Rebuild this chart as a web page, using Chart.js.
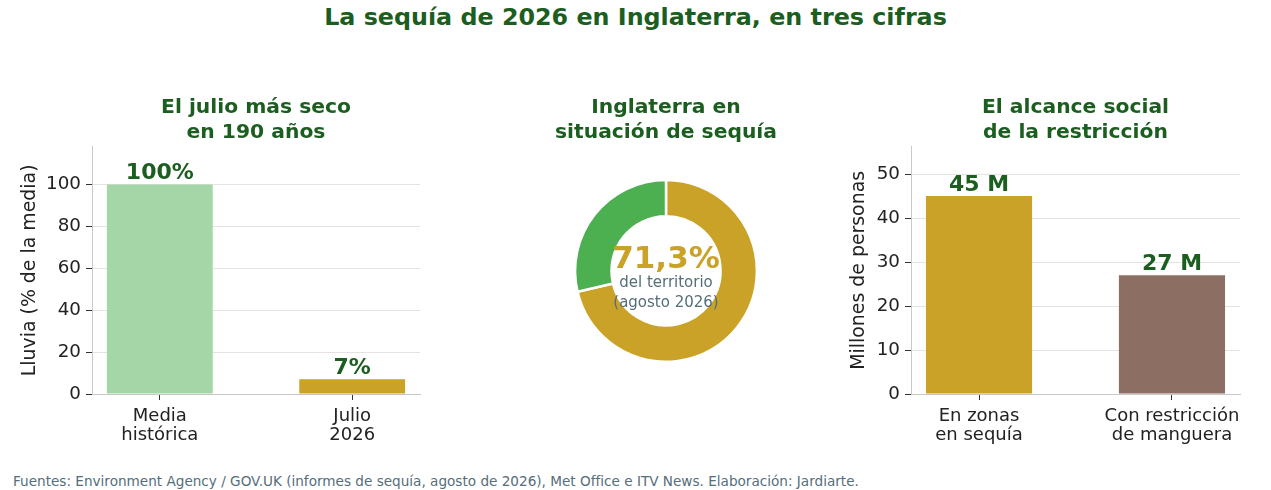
<!DOCTYPE html>
<html lang="es">
<head>
<meta charset="utf-8">
<title>La sequía de 2026 en Inglaterra</title>
<script src="https://cdn.jsdelivr.net/npm/chart.js@4.4.1/dist/chart.umd.min.js"></script>
<style>
    html, body {
        margin: 0;
        padding: 0;
        background: #ffffff;
        font-family: "DejaVu Sans", sans-serif;
    }
    #page {
        position: relative;
        width: 1271px;
        height: 490px;
        overflow: hidden;
    }
    #mainTitle {
        position: absolute;
        left: 0;
        top: 3px;
        width: 1271px;
        text-align: center;
        font-size: 23.8px;
        font-weight: bold;
        color: #1b5e20;
    }
    #source {
        position: absolute;
        left: 13px;
        top: 473px;
        font-size: 13.6px;
        color: #546e7a;
        white-space: nowrap;
    }
    .panel {
        position: absolute;
        top: 0;
        height: 470px;
    }
    #p1 { left: 0; width: 440px; }
    #p2 { left: 500px; width: 332px; }
    #p3 { left: 820px; width: 451px; }
</style>
</head>
<body>
<div id="page">
    <div id="mainTitle">La sequía de 2026 en Inglaterra, en tres cifras</div>
    <div class="panel" id="p1"><canvas id="rainChart"></canvas></div>
    <div class="panel" id="p2"><canvas id="areaChart"></canvas></div>
    <div class="panel" id="p3"><canvas id="peopleChart"></canvas></div>
    <div id="source">Fuentes: Environment Agency / GOV.UK (informes de sequía, agosto de 2026), Met Office e ITV News. Elaboración: Jardiarte.</div>
</div>

<script>

// ================= DATA =================

const rainCategories = [["Media", "histórica"], ["Julio", "2026"]];
const rainValues = [100, 7];
const rainValueLabels = ["100%", "7%"];
const rainColors = ["#a5d6a7", "#c9a227"];
const rainTicks = [0, 20, 40, 60, 80, 100];

const areaCategories = ["En sequía", "Resto"];
const areaValues = [71.3, 28.7];
const areaColors = ["#c9a227", "#4caf50"];
const areaCenterText = ["71,3%", "del territorio", "(agosto 2026)"];

const peopleCategories = [["En zonas", "en sequía"], ["Con restricción", "de manguera"]];
const peopleValues = [45, 27];
const peopleValueLabels = ["45 M", "27 M"];
const peopleColors = ["#c9a227", "#8d6e63"];
const peopleTicks = [0, 10, 20, 30, 40, 50];


// ================= SHARED STYLE =================

const FONT = "'DejaVu Sans', sans-serif";
const GREEN_DARK = "#1b5e20";
const GREY_TEXT = "#546e7a";

Chart.defaults.font.family = FONT;
Chart.defaults.color = "#222222";
Chart.defaults.animation = false;
Chart.defaults.devicePixelRatio = 1;


// labels above bars
const barValueLabels = {
    id: "barValueLabels",
    afterDatasetsDraw(chart, args, opts) {
        const ctx = chart.ctx;
        const meta = chart.getDatasetMeta(0);
        ctx.save();
        ctx.font = "bold 22px " + FONT;
        ctx.fillStyle = GREEN_DARK;
        ctx.textAlign = "center";
        ctx.textBaseline = "alphabetic";
        meta.data.forEach((bar, i) => {
            ctx.fillText(opts.labels[i], bar.x, bar.y - 5);
        });
        ctx.restore();
    }
};

// text in the donut hole
const donutCenter = {
    id: "donutCenter",
    afterDatasetsDraw(chart, args, opts) {
        const ctx = chart.ctx;
        const arc = chart.getDatasetMeta(0).data[0];
        if (!arc) {
            return;
        }
        const cx = arc.x;
        const cy = arc.y;
        ctx.save();
        ctx.textAlign = "center";
        ctx.textBaseline = "middle";
        ctx.font = "bold 31px " + FONT;
        ctx.fillStyle = "#c9a227";
        ctx.fillText(opts.lines[0], cx, cy - 11);
        ctx.font = "15px " + FONT;
        ctx.fillStyle = GREY_TEXT;
        ctx.fillText(opts.lines[1], cx, cy + 12);
        ctx.fillText(opts.lines[2], cx, cy + 32);
        ctx.restore();
    }
};


function barOptions(title, yTitle, yMax, yTicks, categories, valueLabels) {

    return {
        responsive: true,
        maintainAspectRatio: false,
        layout: {
            padding: { top: 96, left: 0, right: 0, bottom: 0 }
        },
        plugins: {
            legend: { display: false },
            tooltip: { enabled: false },
            title: {
                display: true,
                text: title,
                fullSize: false,
                color: GREEN_DARK,
                font: { size: 20.3, weight: "bold", lineHeight: 1.2 },
                padding: { top: 0, bottom: 2 }
            },
            barValueLabels: { labels: valueLabels }
        },
        scales: {
            x: {
                type: "linear",
                offset: false,
                min: -0.3525,
                max: 1.3525,
                afterBuildTicks(scale) {
                    scale.ticks = categories.map((c, i) => ({ value: i }));
                },
                afterFit(scale) {
                    scale.height = 76;
                },
                grid: {
                    offset: false,
                    drawOnChartArea: false,
                    drawTicks: true,
                    tickLength: 6,
                    tickColor: "#333333"
                },
                border: { color: "#c8c8c8", width: 1 },
                ticks: {
                    autoSkip: false,
                    maxRotation: 0,
                    padding: 6,
                    font: { size: 18, lineHeight: 1.1 },
                    callback: (value) => categories[value]
                }
            },
            y: {
                min: 0,
                max: yMax,
                afterBuildTicks(scale) {
                    scale.ticks = yTicks.map(v => ({ value: v }));
                },
                afterFit(scale) {
                    scale.width = 92;
                },
                grid: {
                    color: "#e3e3e3",
                    lineWidth: 1,
                    tickLength: 6,
                    tickColor: "#333333"
                },
                border: { color: "#c8c8c8", width: 1 },
                ticks: {
                    padding: 5,
                    font: { size: 18.3 }
                },
                title: {
                    display: true,
                    text: yTitle,
                    font: { size: 18.9 },
                    padding: { top: 19, bottom: 0 }
                }
            }
        }
    };

}


// ================= RAIN BAR CHART =================

const rainChart = document.getElementById("rainChart");

if (rainChart) {

    const opts = barOptions(
        ["El julio más seco", "en 190 años"],
        "Lluvia (% de la media)",
        118,
        rainTicks,
        rainCategories,
        rainValueLabels
    );
    opts.layout.padding.right = 20;

    new Chart(rainChart, {
        type: "bar",
        data: {
            datasets: [{
                data: rainValues.map((v, i) => ({ x: i, y: v })),
                backgroundColor: rainColors,
                barPercentage: 0.55,
                categoryPercentage: 1.0
            }]
        },
        options: opts,
        plugins: [barValueLabels]
    });

}


// ================= DOUGHNUT =================

const areaChart = document.getElementById("areaChart");

if (areaChart) {

    new Chart(areaChart, {
        type: "doughnut",
        data: {
            labels: areaCategories,
            datasets: [{
                data: areaValues,
                backgroundColor: areaColors,
                borderColor: "#ffffff",
                borderWidth: 2.5
            }]
        },
        options: {
            responsive: true,
            maintainAspectRatio: false,
            cutout: "60%",
            rotation: 0,
            layout: {
                padding: { top: 96, left: 0, right: 0, bottom: 107 }
            },
            plugins: {
                legend: { display: false },
                tooltip: { enabled: false },
                title: {
                    display: true,
                    text: ["Inglaterra en", "situación de sequía"],
                    fullSize: false,
                    color: GREEN_DARK,
                    font: { size: 20.3, weight: "bold", lineHeight: 1.2 },
                    padding: { top: 0, bottom: 34 }
                },
                donutCenter: { lines: areaCenterText }
            }
        },
        plugins: [donutCenter]
    });

}


// ================= PEOPLE BAR CHART =================

const peopleChart = document.getElementById("peopleChart");

if (peopleChart) {

    const opts = barOptions(
        ["El alcance social", "de la restricción"],
        "Millones de personas",
        56.2,
        peopleTicks,
        peopleCategories,
        peopleValueLabels
    );
    opts.layout.padding.right = 31;
    opts.scales.y.afterFit = (scale) => { scale.width = 91; };
    opts.scales.y.title.padding.top = 28;

    new Chart(peopleChart, {
        type: "bar",
        data: {
            datasets: [{
                data: peopleValues.map((v, i) => ({ x: i, y: v })),
                backgroundColor: peopleColors,
                barPercentage: 0.55,
                categoryPercentage: 1.0
            }]
        },
        options: opts,
        plugins: [barValueLabels]
    });

}

</script>
</body>
</html>
